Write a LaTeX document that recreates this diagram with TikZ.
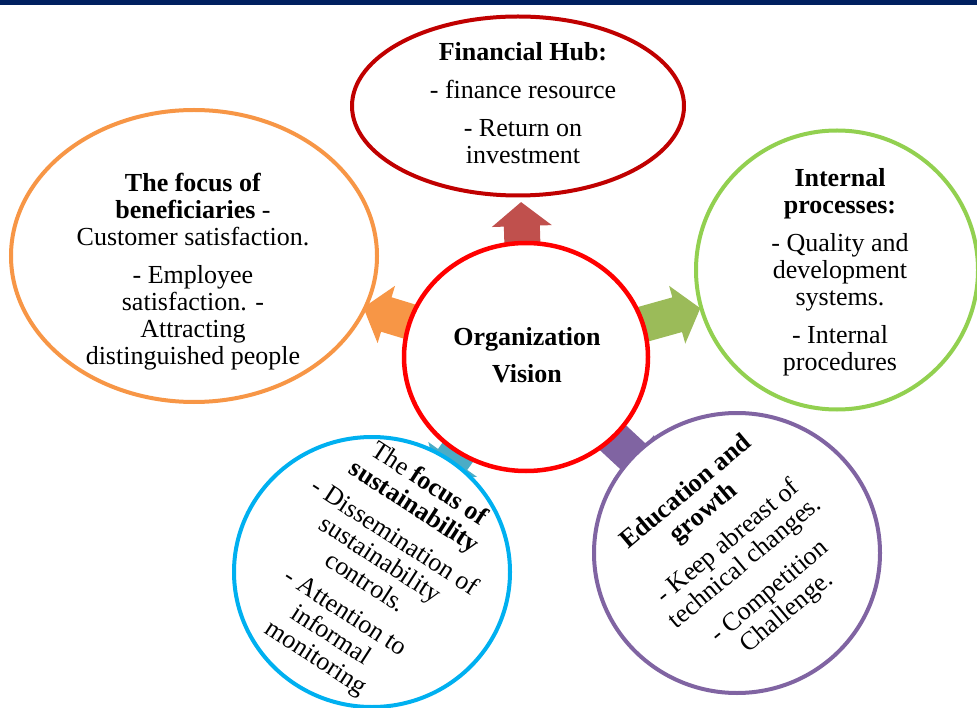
\documentclass[tikz,border=0pt]{standalone}
\usepackage{fontspec}
\setmainfont{Liberation Serif}
\usetikzlibrary{shapes.geometric,calc,backgrounds}

\definecolor{top bar}{RGB}{0,32,96}
\definecolor{vision red}{RGB}{255,0,0}
\definecolor{hub red}{RGB}{192,0,0}
\definecolor{benef orange}{RGB}{247,150,70}
\definecolor{process green}{RGB}{146,208,80}
\definecolor{sustain blue}{RGB}{0,176,240}
\definecolor{growth purple}{RGB}{128,100,162}
\definecolor{arrow red}{RGB}{192,80,77}
\definecolor{arrow green}{RGB}{155,187,89}
\definecolor{arrow teal}{RGB}{75,172,198}

\tikzset{outer ellipse/.style={ellipse,line width=4pt,fill=white,inner sep=0pt},
centre ellipse/.style={ellipse,draw=vision red,line width=4.5pt,fill=white,inner sep=0pt},
item text/.style={align=center,inner sep=0pt,font=\fontsize{26}{27}\selectfont}}

% block arrow from #1 to the tip #2, filled with #3
\newcommand{\radarrow}[3]{%
\coordinate (h) at ($(#2)!24pt!(#1)$);
\fill [#3] ($(#1)!18pt!90:(#2)$) -- ($(h)!18pt!90:(#2)$) -- ($(h)!30pt!90:(#2)$) -- (#2)
  -- ($(h)!30pt!-90:(#2)$) -- ($(h)!18pt!-90:(#2)$) -- ($(#1)!18pt!-90:(#2)$) -- cycle;}

\begin{document}
\begin{tikzpicture}[x=1pt,y=-1pt]
\useasboundingbox (0,0) rectangle (977,708);
\fill [top bar] (0,0) rectangle (977,5);

%% Coordinates of the ellipse centres.
\coordinate (c0) at (526,357);
\coordinate (c1) at (518,106);
\coordinate (c2) at (837,270);
\coordinate (c3) at (194,256);
\coordinate (c4) at (372,572);
\coordinate (c5) at (737,553);

%% ellipses
\node [centre ellipse,minimum width=244pt,minimum height=228pt] (vision) at (c0) {};
\node [outer ellipse,draw=hub red,minimum width=332pt,minimum height=179pt] (hub) at (c1) {};
\node [outer ellipse,draw=process green,minimum width=282pt,minimum height=279pt] (process) at (c2) {};
\node [outer ellipse,draw=benef orange,minimum width=366pt,minimum height=292pt] (benef) at (c3) {};
\node [outer ellipse,draw=sustain blue,minimum width=276pt,minimum height=270pt] (sustain) at (c4) {};
\node [outer ellipse,draw=growth purple,minimum width=286pt,minimum height=280pt] (growth) at (c5) {};

%% arrow tips
\coordinate (t1) at ($(vision.center)!155pt!(hub.center)$);
\coordinate (t2) at ($(vision.center)!181pt!(process.center)$);
\coordinate (t3) at ($(vision.center)!170pt!(benef.center)$);
\coordinate (t4) at ($(vision.center)!150pt!(sustain.center)$);
\coordinate (t5) at ($(vision.center)!171pt!(growth.center)$);

%% arrows, behind the ellipses
\begin{pgfonlayer}{background}
\radarrow{vision.center}{t1}{arrow red}
\radarrow{vision.center}{t2}{arrow green}
\radarrow{vision.center}{t3}{benef orange}
\radarrow{vision.center}{t4}{arrow teal}
\radarrow{vision.center}{t5}{growth purple}
\end{pgfonlayer}

%% texts
\node [item text] (vision text) at (527,355) {\textbf{Organization}\\[10pt]\textbf{Vision}};
\node [item text] (hub text) at (523,103) {\textbf{Financial Hub:}\\[11pt]- finance resource\\[11pt]- Return on\\investment};
\node [item text] (benef text) at (193,272) {\textbf{The focus of}\\\textbf{beneficiaries} -\\Customer satisfaction.\\[11pt]- Employee\\satisfaction. -\\Attracting\\distinguished people};
\node [item text] (process text) at (840,272) {\textbf{Internal}\\\textbf{processes:}\\[11pt]- Quality and\\development\\systems.\\[11pt]- Internal\\procedures};
\node [item text,rotate=-33] (sustain text) at (372,572) {The \textbf{focus of}\\\textbf{sustainability}\\[9pt]- Dissemination of\\sustainability\\controls.\\[9pt]- Attention to\\informal\\monitoring};
\node [item text,rotate=40] (growth text) at (737,553) {\textbf{Education and}\\\textbf{growth}\\[11pt]- Keep abreast of\\technical changes.\\[11pt]- Competition\\Challenge.};

\end{tikzpicture}
\end{document}
